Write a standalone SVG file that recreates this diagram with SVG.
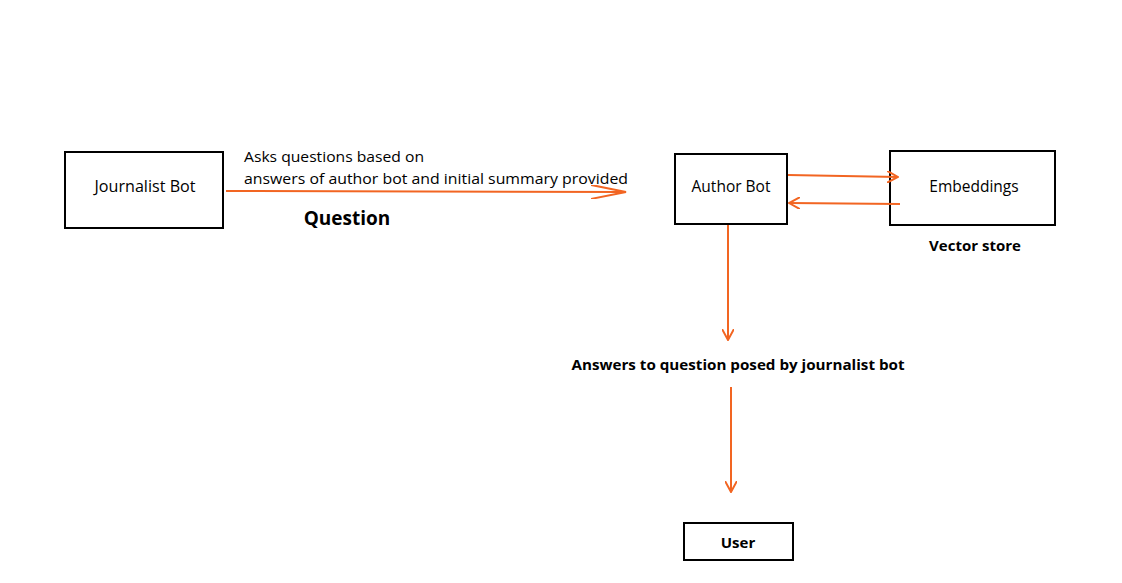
<svg xmlns="http://www.w3.org/2000/svg" width="1122" height="583" viewBox="0 0 1122 583">
<defs>
<marker id="chev" viewBox="0 0 12 12" refX="11" refY="6" markerWidth="12" markerHeight="12" markerUnits="userSpaceOnUse" orient="auto">
<path d="M0,0 L11,6 L0,12" fill="none" stroke="#f26522" stroke-width="2"/>
</marker>
<marker id="chevL" viewBox="0 0 36 14" refX="35" refY="7" markerWidth="36" markerHeight="14" markerUnits="userSpaceOnUse" orient="auto">
<path d="M0,0 L35,7 L0,14" fill="none" stroke="#f26522" stroke-width="2"/>
</marker>
</defs>
<style>
.box{fill:none;stroke:#000;stroke-width:2}
.t{font-family:"Open Sans","Liberation Sans",sans-serif;font-size:15.5px;fill:#000}
.b{font-family:"Open Sans","Liberation Sans",sans-serif;font-weight:bold;fill:#000}
.c{fill:none;stroke:#f26522;stroke-width:2}
</style>
<rect width="1122" height="583" fill="#fff"/>
<g id="journalist">
<rect class="box" x="65" y="152" width="158" height="76"/>
<text class="t" x="145" y="192" text-anchor="middle" textLength="101" lengthAdjust="spacingAndGlyphs">Journalist Bot</text>
</g>
<g id="question-label">
<text class="t" x="244" y="162" font-size="14" style="font-size:14px" textLength="180" lengthAdjust="spacingAndGlyphs">Asks questions based on</text>
<text class="t" x="244" y="184" style="font-size:14px" textLength="384" lengthAdjust="spacingAndGlyphs">answers of author bot and initial summary provided</text>
<text class="b" x="347" y="225" font-size="19" text-anchor="middle">Question</text>
</g>
<g id="author">
<rect class="box" x="675" y="154" width="112" height="70"/>
<text class="t" x="731" y="192" text-anchor="middle">Author Bot</text>
</g>
<g id="embeddings">
<rect class="box" x="890" y="151" width="165" height="74"/>
<text class="t" x="974" y="192" text-anchor="middle">Embeddings</text>
<text class="b" x="975" y="251" font-size="15" text-anchor="middle">Vector store</text>
</g>
<g id="answers">
<text class="b" x="738" y="370" font-size="14" text-anchor="middle" textLength="333" lengthAdjust="spacingAndGlyphs">Answers to question posed by journalist bot</text>
</g>
<g id="user">
<rect class="box" x="684" y="523" width="109" height="37"/>
<text class="b" x="738" y="548" font-size="15" text-anchor="middle">User</text>
</g>
<g id="connectors">
<line class="c" x1="226" y1="191" x2="626" y2="192" marker-end="url(#chevL)"/>
<line class="c" x1="788" y1="175" x2="898" y2="177" marker-end="url(#chev)"/>
<line class="c" x1="900" y1="204" x2="789" y2="203" marker-end="url(#chev)"/>
<line class="c" x1="728" y1="225" x2="728" y2="340" marker-end="url(#chev)"/>
<line class="c" x1="731" y1="387" x2="731" y2="492" marker-end="url(#chev)"/>
</g>
</svg>
